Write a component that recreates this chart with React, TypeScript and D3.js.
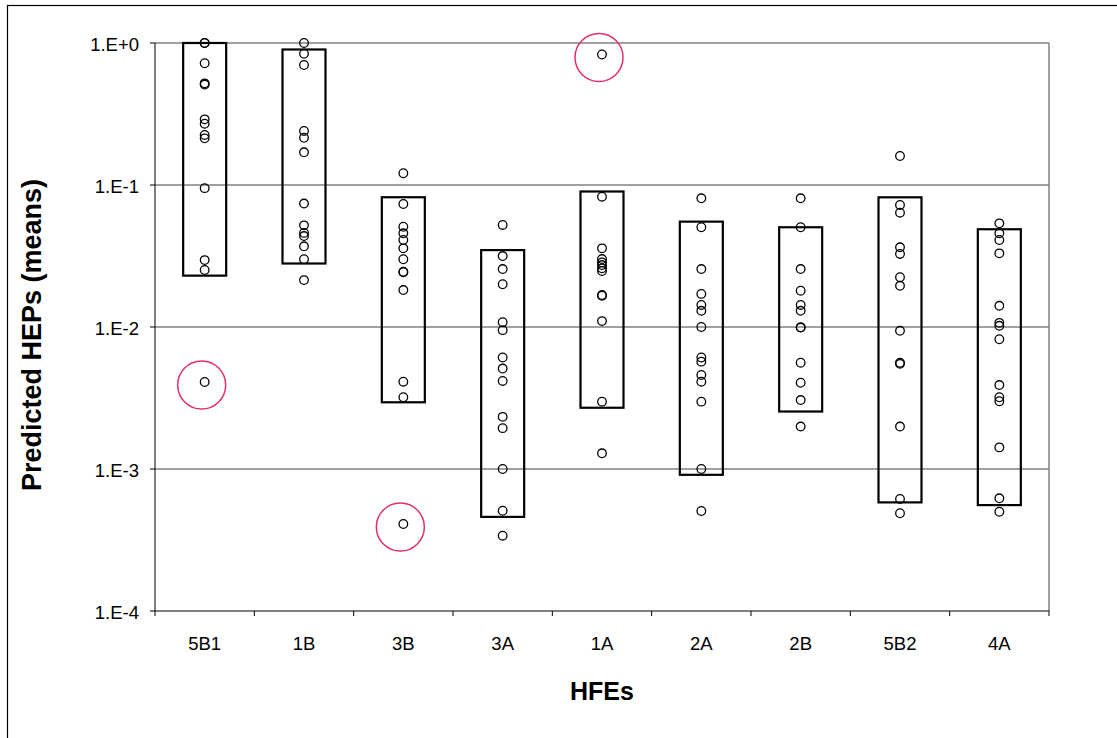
import React from "react";
import * as d3 from "d3";

// HFE categories along the x axis
const categories = ["5B1", "1B", "3B", "3A", "1A", "2A", "2B", "5B2", "4A"];

// Predicted HEP means per HFE (one array per category)
const hep5B1 = [1.0, 1.0, 0.72, 0.52, 0.51, 0.29, 0.27, 0.225, 0.213, 0.095, 0.0296, 0.0252, 0.0041];
const hep1B = [1.0, 0.84, 0.7, 0.24, 0.215, 0.17, 0.074, 0.052, 0.046, 0.0437, 0.037, 0.03, 0.0214];
const hep3B = [0.121, 0.0735, 0.0508, 0.0457, 0.041, 0.0358, 0.03, 0.0245, 0.0243, 0.0182, 0.00412, 0.0032, 0.00041];
const hep3A = [0.0523, 0.0316, 0.0256, 0.02, 0.0108, 0.0095, 0.0061, 0.0051, 0.00417, 0.00233, 0.00194, 0.001, 0.000508, 0.000339];
const hep1A = [0.83, 0.0827, 0.0358, 0.0301, 0.0285, 0.0273, 0.0259, 0.0248, 0.0168, 0.0166, 0.011, 0.00298, 0.00129];
const hep2A = [0.0806, 0.0504, 0.0256, 0.0171, 0.0143, 0.013, 0.01, 0.0061, 0.0057, 0.00459, 0.00412, 0.00298, 0.001, 0.000506];
const hep2B = [0.0806, 0.0504, 0.0256, 0.018, 0.0143, 0.013, 0.00995, 0.0099, 0.0056, 0.00405, 0.00306, 0.00199];
const hep5B2 = [0.16, 0.0723, 0.0638, 0.0364, 0.0327, 0.0224, 0.0195, 0.0094, 0.0056, 0.0055, 0.00199, 0.000615, 0.000488];
const hep4A = [0.0537, 0.0457, 0.041, 0.033, 0.0141, 0.0107, 0.0102, 0.0082, 0.0039, 0.0032, 0.003, 0.00142, 0.000622, 0.0005];

const pointSets = [hep5B1, hep1B, hep3B, hep3A, hep1A, hep2A, hep2B, hep5B2, hep4A];

// Range boxes (upper and lower bound per HFE)
const boxTop = [1.0, 0.9, 0.082, 0.0348, 0.09, 0.0552, 0.0504, 0.0819, 0.0488];
const boxBottom = [0.023, 0.028, 0.00295, 0.00046, 0.0027, 0.00091, 0.00254, 0.000582, 0.000557];

// Flagged outliers: category and value
const flaggedCategory = ["5B1", "3B", "1A"];
const flaggedValue = [0.0041, 0.00041, 0.83];

// Y axis ticks
const yTicks = [1, 0.1, 0.01, 0.001, 0.0001];
const yTickLabels = ["1.E+0", "1.E-1", "1.E-2", "1.E-3", "1.E-4"];

const W = 1117;
const H = 738;
const plot = { left: 155, right: 1049, top: 43, bottom: 611 };
const font = "'Liberation Sans', Arial, sans-serif";

export default function App() {
  const x = d3
    .scaleBand<string>()
    .domain(categories)
    .range([plot.left, plot.right]);
  const y = d3.scaleLog().domain([0.0001, 1]).range([plot.bottom, plot.top]);
  const boxW = 43;
  const cx = (c: string) => (x(c) as number) + x.bandwidth() / 2;

  return (
    <svg
      width={W}
      height={H}
      style={{ position: "absolute", left: 0, top: 0, background: "#fff" }}
    >
      {/* outer frame */}
      <rect x={7.5} y={5.5} width={1200} height={800} fill="none" stroke="#000" strokeWidth={1.2} />

      {/* horizontal gridlines */}
      {yTicks.slice(0, -1).map((t) => (
        <line key={t} x1={plot.left} x2={plot.right} y1={y(t)} y2={y(t)} stroke="#808080" strokeWidth={1.5} />
      ))}
      {/* right border of plot area */}
      <line x1={plot.right} x2={plot.right} y1={plot.top} y2={plot.bottom} stroke="#808080" strokeWidth={1.5} />

      {/* axes */}
      <line x1={plot.left} x2={plot.left} y1={plot.top} y2={plot.bottom} stroke="#000" strokeWidth={1} />
      <line x1={plot.left} x2={plot.right} y1={plot.bottom} y2={plot.bottom} stroke="#000" strokeWidth={1} />
      {yTicks.map((t, i) => (
        <g key={t}>
          <line x1={plot.left - 5} x2={plot.left} y1={y(t)} y2={y(t)} stroke="#000" strokeWidth={1} />
          <text
            x={plot.left - 16}
            y={y(t) + 2}
            dy="0.35em"
            textAnchor="end"
            fontFamily={font}
            fontSize={18.5}
            fill="#000"
          >
            {yTickLabels[i]}
          </text>
        </g>
      ))}
      {categories.map((c, i) => (
        <g key={c}>
          <line
            x1={(x(c) as number) + x.bandwidth()}
            x2={(x(c) as number) + x.bandwidth()}
            y1={plot.bottom}
            y2={plot.bottom + 5}
            stroke="#000"
            strokeWidth={1}
          />
          {i === 0 && (
            <line x1={plot.left} x2={plot.left} y1={plot.bottom} y2={plot.bottom + 5} stroke="#000" strokeWidth={1} />
          )}
          <text x={cx(c)} y={650} textAnchor="middle" fontFamily={font} fontSize={18.5} fill="#000">
            {c}
          </text>
        </g>
      ))}

      {/* range boxes */}
      {categories.map((c, i) => (
        <rect
          key={c}
          x={cx(c) - boxW / 2}
          y={y(boxTop[i])}
          width={boxW}
          height={y(boxBottom[i]) - y(boxTop[i])}
          fill="none"
          stroke="#000"
          strokeWidth={2.2}
        />
      ))}

      {/* points */}
      {categories.map((c, i) =>
        pointSets[i].map((v, j) => (
          <circle
            key={c + j}
            cx={cx(c)}
            cy={y(v)}
            r={4.3}
            fill="none"
            stroke="#000"
            strokeWidth={1.3}
          />
        ))
      )}

      {/* flagged outliers */}
      {flaggedCategory.map((c, i) => (
        <circle
          key={c}
          cx={cx(c) - 3}
          cy={y(flaggedValue[i]) + 3}
          r={24}
          fill="none"
          stroke="#e3306a"
          strokeWidth={1.5}
        />
      ))}

      {/* axis titles */}
      <text
        x={(plot.left + plot.right) / 2}
        y={700}
        textAnchor="middle"
        fontFamily={font}
        fontSize={25}
        fontWeight="bold"
        fill="#000"
      >
        HFEs
      </text>
      <text
        transform={`translate(41, 335) rotate(-90)`}
        textAnchor="middle"
        fontFamily={font}
        fontSize={27}
        fontWeight="bold"
        fill="#000"
      >
        Predicted HEPs (means)
      </text>
    </svg>
  );
}
